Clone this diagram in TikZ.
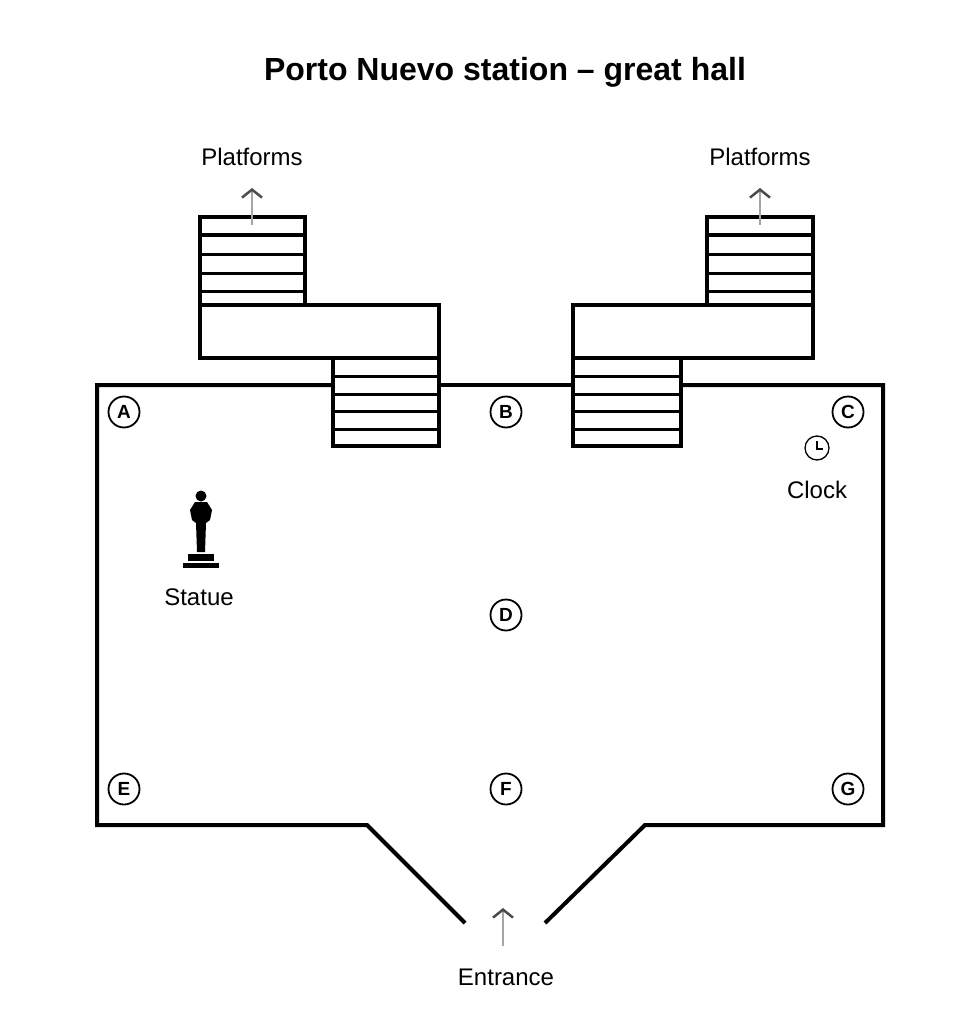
\documentclass[tikz,border=0pt]{standalone}
\usepackage{fontspec}
\setmainfont{Liberation Sans}
\usetikzlibrary{arrows.meta}
\begin{document}
\begin{tikzpicture}[x=1pt,y=-1pt,
   wall/.style={line width=4pt},
   tread/.style={line width=3pt},
   spot/.style={circle,draw,line width=1.8pt,minimum size=31pt,inner sep=0pt,font=\bfseries\fontsize{19}{19}\selectfont},
   lbl/.style={font=\fontsize{24}{24}\selectfont},
   way/.style={draw=gray!70,line width=2.2pt,-{Straight Barb[length=8pt,width=20pt,line width=2.5pt,color=black!70]}}]
   \useasboundingbox (0,0) rectangle (979,1024);
   \node[font=\bfseries\fontsize{32}{32}\selectfont] (title) at (505,72) {Porto Nuevo station – great hall};

   % hall walls
   \draw[wall] (333,385) -- (97,385) -- (97,825) -- (367,825) -- (465,923);
   \draw[wall] (545,923) -- (645,825) -- (883,825) -- (883,385) -- (681,385);
   \draw[wall] (439,385) -- (573,385);

   % left stairs
   \draw[wall] (200,217) rectangle (305,305);
   \draw[wall] (200,305) rectangle (439,358);
   \draw[wall] (333,358) rectangle (439,446);
   \foreach \y in {235,254,273,291} \draw[tread] (200,\y) -- (305,\y);
   \foreach \y in {376,394,411,429} \draw[tread] (333,\y) -- (439,\y);
   % right stairs
   \draw[wall] (707,217) rectangle (813,305);
   \draw[wall] (573,305) rectangle (813,358);
   \draw[wall] (573,358) rectangle (681,446);
   \foreach \y in {235,254,273,291} \draw[tread] (707,\y) -- (813,\y);
   \foreach \y in {376,394,411,429} \draw[tread] (573,\y) -- (681,\y);

   \node[lbl] (platL) at (252,157) {Platforms};
   \node[lbl] (platR) at (760,157) {Platforms};
   \coordinate (upL) at (252,225); \coordinate (upR) at (760,225);
   \draw[way] (upL) -- (252,188);
   \draw[way] (upR) -- (760,188);

   % spots
   \node[spot] (A) at (124,412) {A};
   \node[spot] (B) at (506,412) {B};
   \node[spot] (C) at (848,412) {C};
   \node[spot] (D) at (506,615) {D};
   \node[spot] (E) at (124,789) {E};
   \node[spot] (F) at (506,789) {F};
   \node[spot] (G) at (848,789) {G};

   % clock
   \draw[line width=1.3pt] (817,448) circle (12);
   \draw[line width=1.3pt] (817,441) -- (817,449) -- (823,449);
   \node[lbl] (clock) at (817,490) {Clock};

   % statue
   \fill (201,496) circle (5.5);
   \fill (195,502) -- (207,502) -- (212,510) -- (210,520) -- (206,523) -- (205,552) -- (197,552) -- (196,523) -- (192,520) -- (190,510) -- cycle;
   \fill (188,554) rectangle (214,561);
   \fill (183,563) rectangle (219,568);
   \node[lbl] (statue) at (199,597) {Statue};

   % entrance
   \node[lbl] (entrance) at (506,977) {Entrance};
   \coordinate (inE) at (503,946);
   \draw[way] (inE) -- (503,908);
 \end{tikzpicture}
\end{document}
